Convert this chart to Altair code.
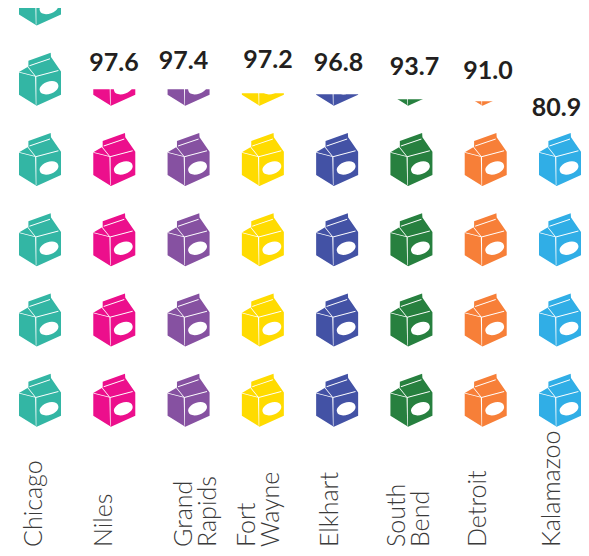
import altair as alt
import pandas as pd

# values
cities = ["Chicago", "Niles", "Grand Rapids", "Fort Wayne", "Elkhart", "South Bend", "Detroit", "Kalamazoo"]
label_lines = ["Chicago", "Niles", "Grand\nRapids", "Fort\nWayne", "Elkhart", "South\nBend", "Detroit", "Kalamazoo"]
colors = ["#33B6A4", "#EC0F8C", "#8651A1", "#FFDB00", "#4352A5", "#27803F", "#F77F38", "#30AEE6"]
carton_counts = [6, 5, 5, 5, 5, 5, 5, 4]
fill_levels = [5.3, 4.205, 4.205, 4.156, 4.143, 4.081, 4.056, 3.82]
value_text = [None, "97.6", "97.4", "97.2", "96.8", "93.7", "91.0", "80.9"]

# offsets of texts from their column / level (style, not data)
value_dx = [0, 3, -1.8, 8.4, 4.6, 6.4, 5.6, -0.2]
value_dy = [0, -26, -28, -33, -31, -32, -30, -12]
city_dy = [4.8, 1, 6.7, -4.6, 4.1, -3.1, 3.6, 3.3]

# milk carton glyphs: 1 path unit = 1px at size 4, origin at the bottom tip
CARTON = "M0 0 L-17.7 -11 L-17.7 -33.7 L-8.3 -39.3 L-8.3 -45 L14 -53 L14.3 -48.7 L24.3 -34.3 L24.3 -11 Z"
DETAIL = (
    "M-7.3 -40.4 L13.3 -47.4 L13.3 -46.6 L-7.3 -39.6 Z "
    "M-1 -29.8 L21.7 -35.8 L21.7 -34.8 L-1 -28.8 Z "
    "M-1.6 -29 L-0.4 -29 L-0.3 -1 L-0.9 -1 Z "
    "M-17.7 -34 L-1 -29.7 L-1 -28.9 L-17.7 -33.2 Z "
    "M-9.2 -38.8 L-8.6 -39.2 L-0.6 -29.3 L-1.3 -28.9 Z "
    "M3.2 -14.7 A9.7 5.7 -20 1 0 21.4 -21.3 A9.7 5.7 -20 1 0 3.2 -14.7 Z"
)

Y_TOP = 5.218
cartons = pd.DataFrame(
    [{"city": c, "row": r} for c, n in zip(cities, carton_counts) for r in range(n)]
)
levels = pd.DataFrame({"city": cities, "level": fill_levels, "top": [Y_TOP] * len(cities)})

x = alt.X("city:N", axis=None,
          scale=alt.Scale(type="point", domain=cities, range=[28.7, 548.7], padding=0, round=False))
y_scale = alt.Scale(domain=[-1.5106, Y_TOP], nice=False, zero=False)
y_row = alt.Y("row:Q", axis=None, scale=y_scale)
color = alt.Color("city:N", legend=None, scale=alt.Scale(domain=cities, range=colors))

body = alt.Chart(cartons).mark_point(
    filled=True, size=4, shape=CARTON, opacity=1, clip=True
).encode(x=x, y=y_row, color=color)

detail = alt.Chart(cartons).mark_point(
    filled=True, size=4, shape=DETAIL, opacity=1, color="white", clip=True
).encode(x=x, y=y_row)

cover = alt.Chart(levels).mark_bar(size=62, color="white", clip=True).encode(
    x=x, y=alt.Y("level:Q", axis=None, scale=y_scale), y2="top:Q"
)

layers = [body, detail, cover]

for i, c in enumerate(cities):
    if value_text[i]:
        d = pd.DataFrame({"city": [c], "level": [fill_levels[i]], "t": [value_text[i]]})
        layers.append(
            alt.Chart(d).mark_text(
                font="Lato", fontSize=25, fontWeight=700, color="#231F20",
                dx=value_dx[i], dy=value_dy[i], baseline="middle", align="center",
            ).encode(x=x, y=alt.Y("level:Q", axis=None, scale=y_scale), text="t:N")
        )
    d = pd.DataFrame({"city": [c], "t": [label_lines[i]]})
    layers.append(
        alt.Chart(d).mark_text(
            font="Lato", fontSize=25, fontWeight=300, color="#3A3A3A", angle=270,
            align="left", baseline="alphabetic", lineBreak="\n", lineHeight=24,
            dy=city_dy[i],
        ).encode(x=x, y=alt.value(539), text="t:N")
    )

chart = alt.layer(*layers).properties(
    width=573, height=540, padding=0,
    autosize=alt.AutoSizeParams(type="none"),
).configure_view(stroke=None)

chart.save("out.html", embed_options={"renderer": "svg", "actions": False})
